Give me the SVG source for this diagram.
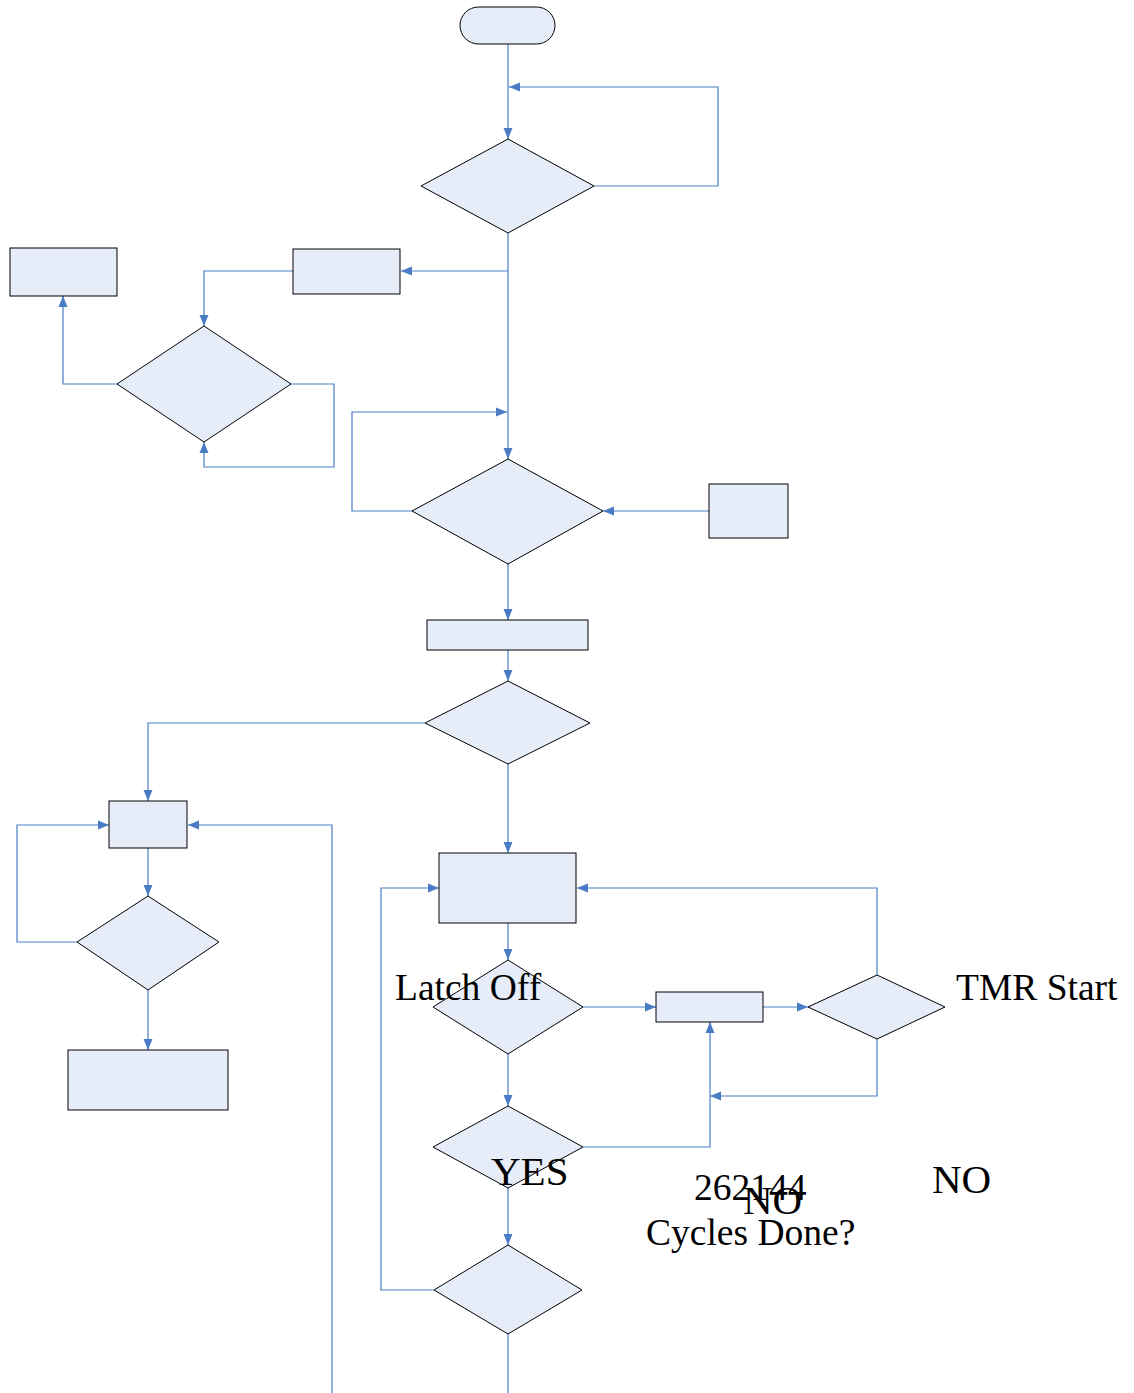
<svg xmlns="http://www.w3.org/2000/svg" width="1134" height="1393" viewBox="0 0 1134 1393">
<style>
.n{fill:#E6EDF8;stroke:#000;stroke-width:1}
.c{fill:none;stroke:#4A7CC6;stroke-width:1.2}
.t{font-family:"Liberation Serif","Times New Roman",serif;fill:#000}
</style>
<defs>
<marker id="a" markerUnits="userSpaceOnUse" markerWidth="12" markerHeight="10" viewBox="0 0 12 10" refX="11" refY="5" orient="auto">
<path d="M0,0.5 L11,5 L0,9.5 z" fill="#4A7CC6"/>
</marker>
</defs>
<rect width="1134" height="1393" fill="#fff"/>
<g id="connectors">
<path class="c" d="M508,44 V139" marker-end="url(#a)"/>
<path class="c" d="M594,186 H718 V87 H509" marker-end="url(#a)"/>
<path class="c" d="M508,233 V459" marker-end="url(#a)"/>
<path class="c" d="M508,271 H401" marker-end="url(#a)"/>
<path class="c" d="M293,271 H204 V326" marker-end="url(#a)"/>
<path class="c" d="M117,384 H63 V296" marker-end="url(#a)"/>
<path class="c" d="M291,384 H334 V467 H204 V442" marker-end="url(#a)"/>
<path class="c" d="M412,511 H352 V412 H507" marker-end="url(#a)"/>
<path class="c" d="M709,511 H603" marker-end="url(#a)"/>
<path class="c" d="M508,564 V620" marker-end="url(#a)"/>
<path class="c" d="M508,650 V681" marker-end="url(#a)"/>
<path class="c" d="M425,723 H148 V801" marker-end="url(#a)"/>
<path class="c" d="M77,942 H17 V825 H109" marker-end="url(#a)"/>
<path class="c" d="M332,1393 V825 H188" marker-end="url(#a)"/>
<path class="c" d="M148,848 V896" marker-end="url(#a)"/>
<path class="c" d="M148,990 V1050" marker-end="url(#a)"/>
<path class="c" d="M508,764 V853" marker-end="url(#a)"/>
<path class="c" d="M434,1290 H381 V888 H439" marker-end="url(#a)"/>
<path class="c" d="M877,975 V888 H577" marker-end="url(#a)"/>
<path class="c" d="M508,923 V960" marker-end="url(#a)"/>
<path class="c" d="M583,1007 H656" marker-end="url(#a)"/>
<path class="c" d="M763,1007 H808" marker-end="url(#a)"/>
<path class="c" d="M877,1039 V1096 H710" marker-end="url(#a)"/>
<path class="c" d="M583,1147 H710 V1022" marker-end="url(#a)"/>
<path class="c" d="M508,1054 V1106" marker-end="url(#a)"/>
<path class="c" d="M508,1188 V1245" marker-end="url(#a)"/>
<path class="c" d="M508,1334 V1393"/>
</g>
<g id="start"><rect class="n" x="460" y="7" width="95" height="37" rx="18.5"/></g>
<g id="d1"><polygon class="n" points="508,139 594,186 508,233 421,186"/></g>
<g id="boxA"><rect class="n" x="293" y="249" width="107" height="45"/></g>
<g id="boxB"><rect class="n" x="10" y="248" width="107" height="48"/></g>
<g id="d2"><polygon class="n" points="204,326 291,384 204,442 117,384"/></g>
<g id="d3"><polygon class="n" points="508,459 603,511 508,564 412,511"/></g>
<g id="boxC"><rect class="n" x="709" y="484" width="79" height="54"/></g>
<g id="boxD"><rect class="n" x="427" y="620" width="161" height="30"/></g>
<g id="d4"><polygon class="n" points="508,681 590,723 508,764 425,723"/></g>
<g id="boxE"><rect class="n" x="109" y="801" width="78" height="47"/></g>
<g id="d5"><polygon class="n" points="148,896 219,942 148,990 77,942"/></g>
<g id="boxF"><rect class="n" x="68" y="1050" width="160" height="60"/></g>
<g id="boxG"><rect class="n" x="439" y="853" width="137" height="70"/></g>
<g id="d6"><polygon class="n" points="508,960 583,1007 508,1054 433,1007"/></g>
<g id="boxH"><rect class="n" x="656" y="992" width="107" height="30"/></g>
<g id="d7tmr"><polygon class="n" points="877,975 945,1007 877,1039 808,1007"/></g>
<g id="d7"><polygon class="n" points="508,1106 583,1147 508,1188 433,1147"/></g>
<g id="d8"><polygon class="n" points="508,1245 582,1290 508,1334 434,1290"/></g>
<g id="labels">
<text class="t" x="395" y="1000" font-size="37.5">Latch Off</text>
<text class="t" x="956" y="1000" font-size="37.5">TMR Start</text>
<text class="t" x="491" y="1185" font-size="41">YES</text>
<text class="t" x="694" y="1200" font-size="37.5">262144</text>
<text class="t" x="743" y="1214" font-size="41">NO</text>
<text class="t" x="646" y="1245" font-size="37.5">Cycles Done?</text>
<text class="t" x="932" y="1193" font-size="41">NO</text>
</g>
</svg>
